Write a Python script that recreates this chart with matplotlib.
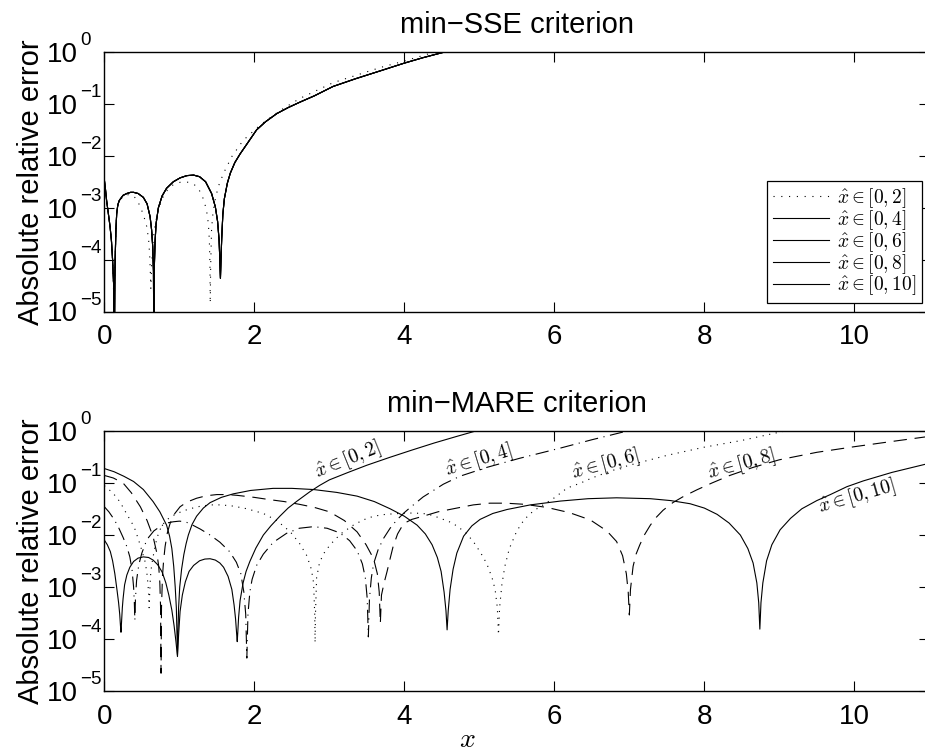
import matplotlib
matplotlib.use('Agg')
import matplotlib.pyplot as plt
import matplotlib.transforms as mtransforms

plt.rcParams['font.family'] = ['Liberation Sans', 'DejaVu Sans']
plt.rcParams['mathtext.fontset'] = 'cm'

ranges = [r'$\hat{x}\in[0,2]$', r'$\hat{x}\in[0,4]$', r'$\hat{x}\in[0,6]$',
          r'$\hat{x}\in[0,8]$', r'$\hat{x}\in[0,10]$']
xticks = [0, 2, 4, 6, 8, 10]
ydecades = [-5, -4, -3, -2, -1, 0]

# ---- min-SSE (top): [0,2] dotted, the other four ranges coincide
sse_x_02 = [0.0, 0.015, 0.03, 0.05, 0.076, 0.095, 0.11, 0.122, 0.13, 0.137, 0.145,
            0.155, 0.165, 0.18, 0.2, 0.25, 0.3, 0.35, 0.39, 0.44, 0.476, 0.52, 0.565,
            0.59, 0.605, 0.615, 0.62, 0.63, 0.653, 0.68, 0.72, 0.78, 0.84, 0.9,
            0.965, 1.02, 1.076, 1.13, 1.19, 1.25, 1.30, 1.34, 1.365, 1.387, 1.40,
            1.408, 1.412, 1.418, 1.43, 1.45, 1.48, 1.52, 1.59, 1.70, 1.85, 2.08,
            2.34, 2.61, 3.05, 3.68, 4.0, 4.39, 4.6]
sse_02 = [3.5e-3, 2.3e-3, 1.4e-3, 8.5e-4, 4.4e-4, 2.3e-4, 1.0e-4, 3e-5, 1e-6, 4e-5,
          1.15e-4, 4e-4, 7.9e-4, 1.1e-3, 1.35e-3, 1.65e-3, 1.8e-3, 1.8e-3, 1.7e-3,
          1.4e-3, 1.07e-3, 7.5e-4, 4.4e-4, 2.5e-4, 1.2e-4, 5e-5, 2.8e-5, 8e-5,
          2.6e-4, 5e-4, 9.5e-4, 1.6e-3, 2.2e-3, 2.7e-3, 3.0e-3, 3.15e-3, 3.2e-3,
          3.1e-3, 2.9e-3, 2.4e-3, 1.8e-3, 1.2e-3, 8.5e-4, 5e-4, 2.4e-4, 8e-5,
          1.45e-5, 8e-5, 4e-4, 8.5e-4, 1.5e-3, 2.6e-3, 4.7e-3, 9.8e-3, 2.0e-2,
          4.0e-2, 7.5e-2, 0.13, 0.26, 0.51, 0.68, 1.0, 1.25]
sse_x_other = [0.0, 0.015, 0.03, 0.05, 0.076, 0.095, 0.11, 0.125, 0.133, 0.14,
               0.145, 0.155, 0.165, 0.18, 0.2, 0.25, 0.3, 0.35, 0.39, 0.45, 0.52,
               0.57, 0.61, 0.63, 0.645, 0.655, 0.66, 0.665, 0.676, 0.69, 0.72, 0.77,
               0.83, 0.92, 1.01, 1.1, 1.19, 1.27, 1.35, 1.43, 1.48, 1.51, 1.53, 1.54,
               1.548, 1.555, 1.565, 1.58, 1.60, 1.64, 1.68, 1.74, 1.81, 1.9, 2.03,
               2.15, 2.30, 2.45, 2.61, 2.8, 3.05, 3.35, 3.68, 4.0, 4.25, 4.52, 4.7]
sse_other = [3.5e-3, 2.3e-3, 1.4e-3, 8.5e-4, 4.4e-4, 2.3e-4, 1.0e-4, 3e-5, 1e-6,
             4e-5, 1.15e-4, 4e-4, 7.9e-4, 1.15e-3, 1.4e-3, 1.75e-3, 1.9e-3, 2.0e-3,
             2.0e-3, 1.9e-3, 1.6e-3, 1.2e-3, 6.8e-4, 3.8e-4, 1.8e-4, 6e-5, 1e-6, 6e-5,
             2.2e-4, 5e-4, 1.0e-3, 1.7e-3, 2.4e-3, 3.2e-3, 3.8e-3, 4.2e-3, 4.3e-3,
             4.0e-3, 3.2e-3, 1.9e-3, 1.05e-3, 5.5e-4, 2.4e-4, 1e-4, 4.4e-5, 1e-4,
             2.6e-4, 7.5e-4, 1.5e-3, 3.0e-3, 4.7e-3, 7.5e-3, 1.1e-2, 1.7e-2, 3.2e-2,
             4.6e-2, 6.6e-2, 8.6e-2, 0.11, 0.145, 0.22, 0.31, 0.44, 0.62, 0.79, 1.0,
             1.2]

# ---- min-MARE (bottom)
mare_x_02 = [0.0, 0.04, 0.08, 0.11, 0.14, 0.17, 0.19, 0.205, 0.215, 0.222, 0.23,
             0.24, 0.25, 0.27, 0.30, 0.34, 0.39, 0.45, 0.52, 0.59, 0.65, 0.71, 0.77,
             0.82, 0.86, 0.9, 0.93, 0.955, 0.975, 0.99, 1.01, 1.04, 1.08, 1.13, 1.19,
             1.27, 1.34, 1.41, 1.48, 1.54, 1.59, 1.65, 1.70, 1.73, 1.75, 1.765, 1.772,
             1.78, 1.79, 1.81, 1.85, 1.89, 1.94, 2.02, 2.12, 2.22, 2.34, 2.45, 2.57,
             2.74, 2.87, 3.0, 3.25, 3.5, 3.8, 4.1, 4.4, 4.7, 4.95, 5.2]
mare_02 = [8e-3, 6.5e-3, 4.8e-3, 3.2e-3, 1.8e-3, 8.5e-4, 5e-4, 3e-4, 1.8e-4, 1.35e-4,
           2.2e-4, 4e-4, 6e-4, 1.1e-3, 1.7e-3, 2.4e-3, 3.1e-3, 3.6e-3, 3.8e-3,
           3.7e-3, 3.3e-3, 2.7e-3, 1.95e-3, 1.2e-3, 7e-4, 3.6e-4, 1.8e-4, 8.9e-5,
           4.6e-5, 1.2e-4, 3.4e-4, 7e-4, 1.26e-3, 2e-3, 2.6e-3, 3.2e-3, 3.45e-3,
           3.5e-3, 3.3e-3, 2.9e-3, 2.4e-3, 1.6e-3, 9e-4, 4.5e-4, 2.4e-4, 1.2e-4,
           8.9e-5, 1.4e-4, 2.6e-4, 5.5e-4, 1.2e-3, 2.0e-3, 3.1e-3, 5.6e-3, 1e-2,
           1.5e-2, 2.3e-2, 3.3e-2, 4.5e-2, 6.8e-2, 9e-2, 0.115, 0.16, 0.22, 0.31,
           0.43, 0.59, 0.79, 1.0, 1.26]

mare_x_04 = [0.0, 0.06, 0.12, 0.18, 0.25, 0.30, 0.34, 0.37, 0.39, 0.40, 0.407, 0.415,
             0.43, 0.46, 0.50, 0.55, 0.59, 0.66, 0.74, 0.83, 0.92, 1.0, 1.08, 1.16,
             1.28, 1.41, 1.54, 1.67, 1.76, 1.82, 1.86, 1.885, 1.90, 1.915, 1.94, 1.97,
             2.03, 2.12, 2.25, 2.43, 2.6, 2.79, 2.97, 3.14, 3.27, 3.37, 3.44, 3.48,
             3.505, 3.52, 3.535, 3.56, 3.59, 3.65, 3.72, 3.81, 3.90, 4.0, 4.08, 4.25,
             4.52, 4.74, 5.1, 5.54, 6.08, 6.5, 6.97, 7.2]
mare_04 = [3.5e-2, 2.8e-2, 2.1e-2, 1.5e-2, 9e-3, 6e-3, 3.8e-3, 2.1e-3, 1e-3, 5e-4,
           2.3e-4, 6e-4, 1.35e-3, 2.7e-3, 4.5e-3, 7e-3, 9e-3, 1.2e-2, 1.45e-2, 1.7e-2,
           1.8e-2, 1.85e-2, 1.8e-2, 1.6e-2, 1.3e-2, 1e-2, 7.3e-3, 4.8e-3, 3e-3,
           1.8e-3, 8e-4, 3e-4, 4.3e-5, 3e-4, 8e-4, 1.4e-3, 2.6e-3, 4.3e-3, 7.2e-3,
           1.08e-2, 1.35e-2, 1.45e-2, 1.35e-2, 1.1e-2, 7.8e-3, 5e-3, 2.8e-3, 1.5e-3,
           6e-4, 1.1e-4, 6e-4, 1.5e-3, 2.8e-3, 5.2e-3, 8.5e-3, 1.35e-2, 1.95e-2,
           2.7e-2, 3.4e-2, 5.4e-2, 9.5e-2, 0.135, 0.2, 0.3, 0.47, 0.68, 1.0, 1.17]

mare_x_06 = [0.0, 0.08, 0.14, 0.2, 0.25, 0.3, 0.35, 0.4, 0.44, 0.48, 0.51, 0.54, 0.565,
             0.58, 0.59, 0.597, 0.605, 0.615, 0.63, 0.65, 0.68, 0.71, 0.74, 0.78,
             0.83, 0.9, 0.97, 1.05, 1.14, 1.27, 1.41, 1.56, 1.72, 1.9, 2.12, 2.3,
             2.48, 2.6, 2.70, 2.76, 2.79, 2.805, 2.81, 2.815, 2.83, 2.87, 2.93, 3.01,
             3.15, 3.32, 3.45, 3.59, 3.75, 3.94, 4.1, 4.25, 4.37, 4.48, 4.6, 4.70,
             4.82, 4.92, 5.02, 5.10, 5.17, 5.21, 5.24, 5.255, 5.27, 5.30, 5.34, 5.40,
             5.50, 5.60, 5.72, 5.85, 6.0, 6.17, 6.35, 6.5, 6.75, 7.0, 7.5, 8.0, 8.5,
             9.07, 9.3]
mare_06 = [8.9e-2, 7.1e-2, 5.8e-2, 4.5e-2, 3.4e-2, 2.5e-2, 1.9e-2, 1.4e-2, 9.5e-3,
           6.3e-3, 4.5e-3, 3.2e-3, 2e-3, 1.2e-3, 7.9e-4, 4e-4, 8e-4, 1.6e-3, 2.6e-3,
           3.8e-3, 6.5e-3, 9.5e-3, 1.25e-2, 1.6e-2, 1.95e-2, 2.3e-2, 2.6e-2, 2.9e-2,
           3.2e-2, 3.55e-2, 3.8e-2, 3.8e-2, 3.6e-2, 3.2e-2, 2.6e-2, 1.9e-2, 1.15e-2,
           7e-3, 4e-3, 2.2e-3, 1.2e-3, 3e-4, 8.5e-5, 3e-4, 1.5e-3, 3e-3, 4.5e-3,
           6.5e-3, 1.05e-2, 1.55e-2, 1.95e-2, 2.3e-2, 2.5e-2, 2.6e-2, 2.65e-2,
           2.6e-2, 2.4e-2, 2.1e-2, 1.8e-2, 1.5e-2, 1.1e-2, 7.5e-3, 4.5e-3, 2.8e-3,
           1.5e-3, 9e-4, 4e-4, 1.2e-4, 4e-4, 1.1e-3, 2.5e-3, 5.5e-3, 1.2e-2, 2.0e-2,
           2.9e-2, 3.8e-2, 5.2e-2, 8e-2, 0.1, 0.125, 0.17, 0.22, 0.34, 0.49, 0.66,
           1.0, 1.17]

mare_x_08 = [0.0, 0.12, 0.25, 0.36, 0.48, 0.57, 0.65, 0.7, 0.725, 0.74, 0.75, 0.756,
             0.762, 0.775, 0.79, 0.81, 0.84, 0.876, 0.94, 1.01, 1.1, 1.23, 1.36, 1.5,
             1.64, 1.77, 2.0, 2.2, 2.4, 2.6, 2.8, 3.0, 3.2, 3.37, 3.49, 3.59, 3.64,
             3.665, 3.68, 3.695, 3.73, 3.77, 3.81, 3.85, 3.91, 3.99, 4.1, 4.25, 4.45,
             4.70, 4.92, 5.14, 5.35, 5.6, 5.9, 6.2, 6.48, 6.7, 6.83, 6.91, 6.96, 6.985,
             7.0, 7.015, 7.05, 7.09, 7.14, 7.2, 7.28, 7.36, 7.45, 7.58, 7.72, 7.9, 8.1,
             8.34, 8.65, 9.0, 9.5, 10.0, 10.5, 11.0]
mare_08 = [0.14, 0.125, 0.1, 6.5e-2, 3.5e-2, 1.9e-2, 9.3e-3, 4.5e-3, 2.5e-3, 1.2e-3,
           4e-4, 2.2e-5, 4e-4, 1.6e-3, 3.2e-3, 6e-3, 1.1e-2, 1.66e-2, 2.6e-2, 3.5e-2,
           4.3e-2, 5.1e-2, 5.7e-2, 6.0e-2, 6.0e-2, 5.8e-2, 5.3e-2, 4.8e-2, 4.4e-2,
           3.9e-2, 3.4e-2, 2.8e-2, 1.9e-2, 1.15e-2, 6.5e-3, 3.5e-3, 1.8e-3, 8e-4,
           2e-4, 7e-4, 1.2e-3, 2.0e-3, 3.5e-3, 6e-3, 1.05e-2, 1.66e-2, 2.0e-2,
           2.3e-2, 2.8e-2, 3.3e-2, 3.8e-2, 4.1e-2, 4.1e-2, 3.9e-2, 3.4e-2, 2.7e-2,
           1.95e-2, 1.2e-2, 7.5e-3, 4e-3, 1.8e-3, 8e-4, 2.9e-4, 9e-4, 2.5e-3, 4.3e-3,
           6.5e-3, 1e-2, 1.55e-2, 2.2e-2, 3.0e-2, 4.2e-2, 5.5e-2, 7.4e-2, 0.1, 0.14,
           0.2, 0.28, 0.39, 0.5, 0.63, 0.79]

mare_x_10 = [0.0, 0.13, 0.26, 0.39, 0.52, 0.65, 0.74, 0.83, 0.87, 0.90, 0.925, 0.945,
             0.96, 0.975, 0.99, 1.005, 1.03, 1.06, 1.09, 1.12, 1.17, 1.23, 1.32, 1.41,
             1.56, 1.72, 1.95, 2.25, 2.5, 2.79, 3.1, 3.37, 3.6, 3.81, 4.0, 4.17, 4.28,
             4.37, 4.44, 4.49, 4.53, 4.555, 4.57, 4.585, 4.61, 4.65, 4.7, 4.79, 4.9,
             5.01, 5.18, 5.37, 5.68, 6.08, 6.45, 6.83, 7.28, 7.55, 7.81, 8.0, 8.17,
             8.33, 8.48, 8.58, 8.65, 8.7, 8.725, 8.74, 8.755, 8.78, 8.83, 8.9, 9.01,
             9.15, 9.3, 9.5, 9.68, 9.9, 10.12, 10.5, 11.0]
mare_10 = [0.19, 0.165, 0.135, 0.107, 7.5e-2, 4.4e-2, 2.8e-2, 1.55e-2, 9.5e-3, 5.5e-3,
           2.5e-3, 1e-3, 4e-4, 5e-5, 4e-4, 1e-3, 2.2e-3, 4.2e-3, 6.8e-3, 1e-2, 1.6e-2,
           2.3e-2, 3.3e-2, 4.2e-2, 5.3e-2, 6.2e-2, 7.2e-2, 7.9e-2, 7.9e-2, 7.5e-2,
           6.6e-2, 5.6e-2, 4.4e-2, 3.2e-2, 2.3e-2, 1.55e-2, 1.05e-2, 6.5e-3, 3.7e-3,
           2e-3, 8e-4, 3.5e-4, 1.5e-4, 3.5e-4, 9e-4, 2.2e-3, 4.5e-3, 9.5e-3, 1.5e-2,
           2e-2, 2.6e-2, 3.1e-2, 3.8e-2, 4.5e-2, 5e-2, 5.2e-2, 5.0e-2, 4.6e-2, 4e-2,
           3.3e-2, 2.5e-2, 1.7e-2, 1e-2, 5.5e-3, 2.9e-3, 1.2e-3, 5e-4, 1.55e-4, 5e-4,
           1.2e-3, 3.2e-3, 6.5e-3, 1.26e-2, 2.1e-2, 3.2e-2, 4.6e-2, 6.0e-2, 8.5e-2,
           0.11, 0.16, 0.24]

# in-plot labels of the bottom panel
lab_x = [3.25, 4.99, 6.68, 8.49, 10.04]
lab_y = [0.283, 0.275, 0.224, 0.224, 0.054]
lab_rot = [22, 17, 15, 15, 16]

LW = 0.8
DOT = (0, (1, 5))
DASH = (0, (12, 7))
DASHDOT = (0, (12, 5, 1, 5))
mare_styles = ['-', DASHDOT, DOT, DASH, '-']

fig = plt.figure(figsize=(9.25, 7.52), dpi=100)
ax1 = fig.add_axes([0.1128, 0.5855, 0.8919, 0.3449])
ax2 = fig.add_axes([0.1128, 0.0811, 0.8919, 0.3457])

ax1.plot(sse_x_02, sse_02, color='k', lw=LW, ls=(0, (1, 6)), label=ranges[0])
for lab in ranges[1:]:
    ax1.plot(sse_x_other, sse_other, color='k', lw=LW, ls='-', label=lab)

mare_x = [mare_x_02, mare_x_04, mare_x_06, mare_x_08, mare_x_10]
mare_y = [mare_02, mare_04, mare_06, mare_08, mare_10]
for xs, ys, st in zip(mare_x, mare_y, mare_styles):
    ax2.plot(xs, ys, color='k', lw=LW, ls=st)
for i in range(5):
    ax2.text(lab_x[i], lab_y[i], ranges[i], rotation=lab_rot[i], fontsize=14,
             ha='center', va='center', rotation_mode='anchor')

for ax, title in [(ax1, 'min\u2212SSE criterion'), (ax2, 'min\u2212MARE criterion')]:
    ax.set_yscale('log')
    ax.set_ylim(1e-5, 1)
    ax.set_xlim(0, 11)
    ax.set_xticks(xticks)
    ax.set_yticks([10.0 ** e for e in ydecades])
    ax.set_yticklabels([])
    ax.set_title(title, fontsize=21, pad=14)
    ax.set_ylabel('Absolute relative error', fontsize=21)
    ax.yaxis.set_label_coords(-0.072, 0.5)
    ax.tick_params(which='both', direction='in', top=True, right=True,
                   labelsize=20, width=0.8)
    ax.tick_params(which='major', length=7)
    ax.tick_params(which='minor', length=3.5)
    ax.tick_params(axis='x', pad=9)
    for sp in ax.spines.values():
        sp.set_linewidth(1.0)

    # MATLAB-style decade labels: "10" aligned, exponent hanging to the right
    blend = mtransforms.blended_transform_factory(ax.transAxes, ax.transData)
    base_tr = mtransforms.offset_copy(blend, fig=fig, y=-7.0, units='points')
    exp_tr = mtransforms.offset_copy(blend, fig=fig, y=5.0, units='points')
    for e in ydecades:
        ax.text(-0.0319, 10.0 ** e, '10', transform=base_tr, ha='right',
                va='baseline', fontsize=20, clip_on=False)
        ax.text(-0.0295, 10.0 ** e, str(e).replace('-', '\u2212'), transform=exp_tr,
                ha='left', va='baseline', fontsize=13.5, clip_on=False)

ax2.set_xlabel('$x$', fontsize=20)
ax2.xaxis.set_label_coords(0.44, -0.137)

ax1.legend(loc='lower right', bbox_to_anchor=(922 / 925, 1 - 303.3 / 752),
           bbox_transform=fig.transFigure, fontsize=14, frameon=True,
           fancybox=False, edgecolor='k', framealpha=1, handlelength=2.9,
           handletextpad=0.4, labelspacing=-0.1, borderpad=0.3, borderaxespad=0)
ax1.get_legend().get_frame().set_linewidth(0.9)

fig.savefig('out.png', dpi=100)
